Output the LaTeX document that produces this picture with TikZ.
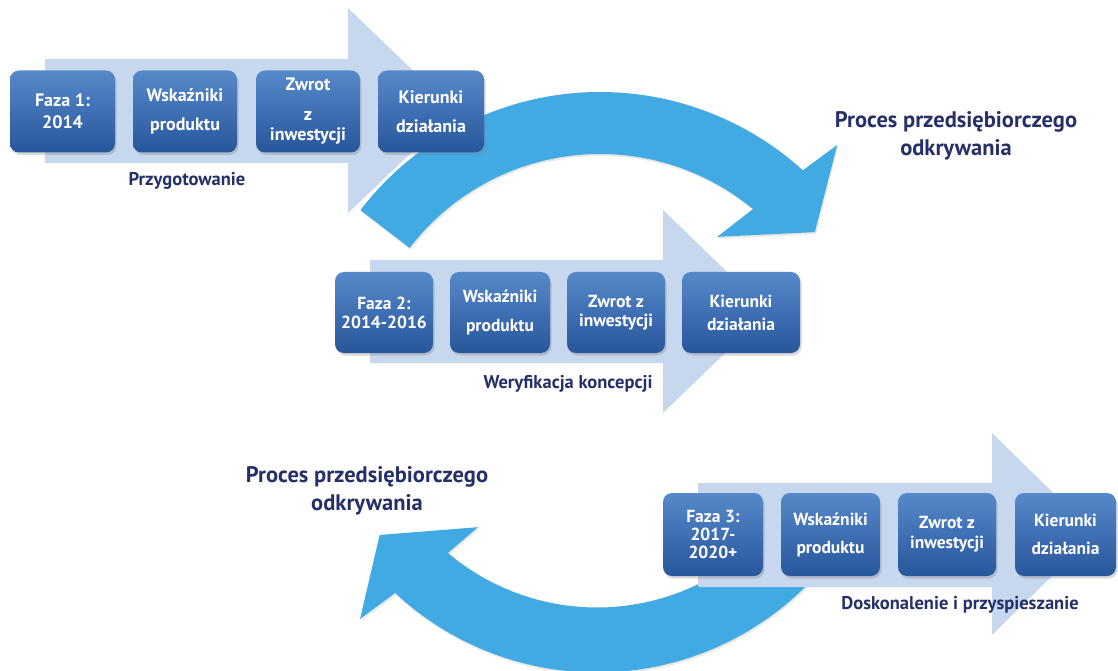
\documentclass[tikz,border=0pt]{standalone}
\usepackage{fontspec}
\setmainfont{PT Sans}
\usetikzlibrary{calc,shadows}
\definecolor{arcblue}{RGB}{66,170,226}
\definecolor{lightarrowc}{RGB}{198,215,238}
\definecolor{boxtop}{RGB}{86,137,202}
\definecolor{boxbot}{RGB}{40,86,155}
\definecolor{navy}{RGB}{38,48,104}
\tikzset{
  stepbox/.style={rounded corners=9pt, top color=boxtop, bottom color=boxbot, draw=none,
    text=white, align=center, inner sep=0pt, minimum height=82pt,
    font=\fontsize{18}{20}\selectfont\bfseries,
    drop shadow={shadow xshift=1.5pt, shadow yshift=-2.5pt, opacity=0.3}},
  midbox/.style={stepbox, font=\fontsize{17.5}{20}\selectfont\bfseries},
  smallbox/.style={stepbox, font=\fontsize{17.5}{18}\selectfont\bfseries},
  phaselabel/.style={text=navy, font=\fontsize{18.5}{20}\selectfont\bfseries, inner sep=0pt},
  proclabel/.style={text=navy, align=center, font=\fontsize{22.5}{28}\selectfont\bfseries, inner sep=0pt},
  lightarrow/.style={fill=lightarrowc},
  bigarc/.style={fill=arcblue, drop shadow={shadow xshift=1pt, shadow yshift=-2pt, opacity=0.18}}
}
\begin{document}
\begin{tikzpicture}[x=1pt,y=1pt]
\useasboundingbox (0,0) rectangle (1118,670);
\fill[white] (0,0) rectangle (1118,670);
\clip (0,0) rectangle (1118,670);

% light arrow 1
\fill[lightarrow] (45,611)--(348,611)--(348,662)--(455,559)--(348,457)--(348,507)--(45,507)--cycle;

% big arc 1
\coordinate (C1) at (600,276);
\fill[bigarc] ($(C1)+(142.5:302)$) arc[start angle=142.5, end angle=47.8, radius=302pt]
  -- ($(C1)+(46.4:344)$) -- ($(C1)+(37:269)$) -- ($(C1)+(53.3:196)$)
  -- ($(C1)+(50.4:240)$) arc[start angle=50.4, end angle=142.5, radius=240pt] -- cycle;

% big arc 2
\coordinate (C2) at (597,293.5);
\fill[bigarc] ($(C2)+(-30:296)$) arc[start angle=-30, end angle=-133, radius=296pt]
  -- ($(C2)+(-134.35:339)$) -- ($(C2)+(-143.9:269)$) -- ($(C2)+(-128.3:192)$)
  -- ($(C2)+(-130.2:231)$) arc[start angle=-130.2, end angle=-30, radius=231pt] -- cycle;

% light arrows 2 and 3
\fill[lightarrow] (370,410)--(663,410)--(663,460)--(768,358.5)--(663,257)--(663,307)--(370,307)--cycle;
\fill[lightarrow] (698,187)--(992,187)--(992,237)--(1095,136)--(992,35)--(992,83)--(698,83)--cycle;

% row 1
\node[stepbox, minimum width=105pt] (f1) at (62.5,558.5) {Faza 1:\\[2pt]2014};
\node[stepbox, minimum width=104pt] (w1) at (185,558.5) {Wskaźniki\\[9pt]produktu};
\node[stepbox, minimum width=104pt] (z1) at (308,558.5) {Zwrot\\[10pt]z\\inwestycji};
\node[stepbox, minimum width=106pt] (k1) at (431,558.5) {Kierunki\\[9pt]działania};
\node[phaselabel] (p1) at (187,489) {Przygotowanie};

% row 2
\node[midbox, minimum width=98pt, minimum height=81pt] (f2) at (384,357.5) {Faza 2:\\[-1pt]2014-2016};
\node[midbox, minimum width=100pt, minimum height=81pt] (w2) at (500,357.5) {Wskaźniki\\[9pt]produktu};
\node[midbox, minimum width=98pt, minimum height=81pt] (z2) at (616,357.5) {Zwrot z\\[-1pt]inwestycji};
\node[midbox, minimum width=118pt, minimum height=81pt] (k2) at (741,357.5) {Kierunki\\[3pt]działania};
\node[phaselabel] (p2) at (568,286) {Weryfikacja koncepcji};

% row 3
\node[smallbox, minimum width=100pt, minimum height=83pt] (f3) at (713,135.5) {Faza 3:\\2017-\\2020+};
\node[smallbox, minimum width=99pt, minimum height=83pt] (w3) at (830.5,135.5) {Wskaźniki\\[10pt]produktu};
\node[smallbox, minimum width=98pt, minimum height=83pt] (z3) at (947,135.5) {Zwrot z\\[2pt]inwestycji};
\node[smallbox, minimum width=101pt, minimum height=83pt] (k3) at (1065.5,135.5) {Kierunki\\[10pt]działania};
\node[phaselabel] (p3) at (960,65) {Doskonalenie i przyspieszanie};

% process labels
\node[proclabel] (pr1) at (956,534) {Proces przedsiębiorczego\\odkrywania};
\node[proclabel] (pr2) at (367,179) {Proces przedsiębiorczego\\odkrywania};
\end{tikzpicture}
\end{document}
